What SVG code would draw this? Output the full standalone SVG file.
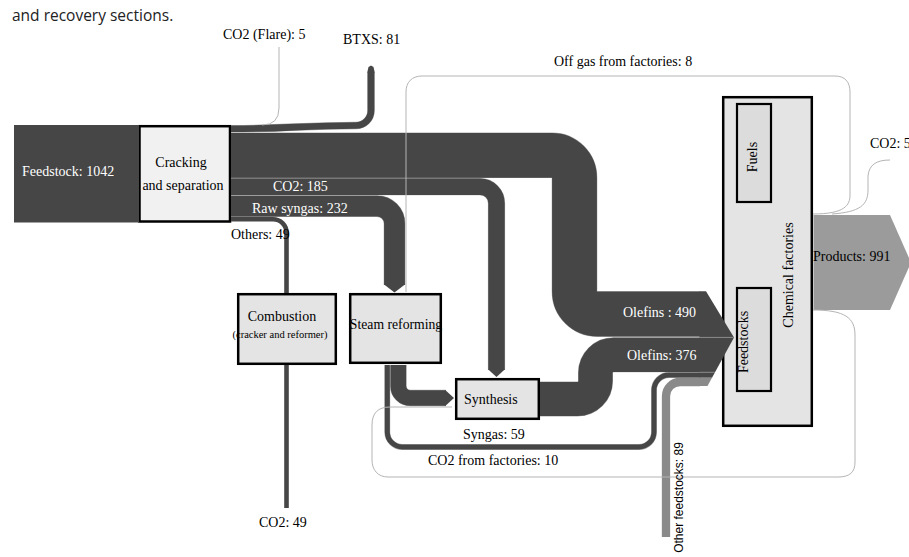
<svg xmlns="http://www.w3.org/2000/svg" width="909" height="557" viewBox="0 0 909 557">
<style>
.t{font-family:"Liberation Serif","Times New Roman",serif;font-size:14px;fill:#000}
.w{fill:#fff}
.ttl{font-family:"Open Sans",Lato,sans-serif;font-size:15.5px;fill:#222}
.ln{fill:none;stroke:#ababab}
.dk{fill:none;stroke:#464646}
.gr{fill:none;stroke:#8a8a8a}
.thin{fill:none;stroke:#b4b4b4;stroke-width:1}
.box{stroke:#000;stroke-width:2.5}
.b1{fill:#f1f1f1}
.b2{fill:#e4e4e4}
.b3{fill:#dcdcdc}
.tip{fill:#464646}
.sep{stroke:#a0a0a0;stroke-width:0.8;fill:none}
</style>
<defs>
<path id="p-btxs" d="M231,128.75 C290,128.75 300,125.5 356,125.5 A15,15 0 0 0 371,110.5 V72"/>
<path id="p-ol490" d="M231,155.3 H552 A22.5,22.5 0 0 1 574.5,177.8 V291.5 A22.5,22.5 0 0 0 597,314 H700"/>
<path id="p-co2185" d="M231,186.7 H480 A16.5,16.5 0 0 1 496.5,203.2 V370"/>
<path id="p-raw" d="M231,206.1 H377 A17.5,17.5 0 0 1 394.5,223.6 V285"/>
<path id="p-others" d="M231,219.2 H273 A13.5,13.5 0 0 1 286.5,232.7 V293"/>
<path id="p-steamsyn" d="M398.3,365 V386 A12,12 0 0 0 410.3,398 H446"/>
<path id="p-syngas59" d="M387.3,365 V432 A15,15 0 0 0 402.3,447 H639 A15,15 0 0 0 654,432 V390 A15,15 0 0 1 669,375 H700"/>
<path id="p-ol376" d="M540,399 H577.5 A18,18 0 0 0 595.5,381 V372.8 A18,18 0 0 1 613.5,354.8 H700"/>
</defs>
<rect width="909" height="557" fill="#fff"/>
<text class="ttl" x="12" y="20.5">and recovery sections.</text>

<g id="cracking">
<rect class="box b1" x="139.5" y="126.2" width="90.5" height="95.3"/>
<text class="t" x="181" y="167" text-anchor="middle">Cracking</text>
<text class="t" x="183" y="190" text-anchor="middle">and separation</text>
</g>
<g id="combustion">
<rect class="box b2" x="238.2" y="294.2" width="97.6" height="69.6"/>
<text class="t" x="282" y="320.5" text-anchor="middle">Combustion</text>
<text class="t" x="280" y="338" text-anchor="middle" style="font-size:10.5px">(cracker and reformer)</text>
</g>
<g id="steam-reforming">
<rect class="box b2" x="350.2" y="294.2" width="90.6" height="68.6"/>
<text class="t" x="396" y="329" text-anchor="middle" style="font-size:13.7px">Steam reforming</text>
</g>
<g id="synthesis">
<rect class="box b2" x="456.2" y="379.2" width="82.6" height="39.6"/>
<text class="t" x="464" y="404">Synthesis</text>
</g>
<g id="chemical-factories">
<rect class="box b2" x="723.2" y="97.2" width="88.6" height="328.6"/>
<text class="t" transform="translate(793,275) rotate(-90)" text-anchor="middle">Chemical factories</text>
<g id="fuels">
<rect class="box b3" x="737" y="104" width="34" height="98" style="stroke-width:2.2"/>
<text class="t" transform="translate(757,157) rotate(-90)" text-anchor="middle">Fuels</text>
</g>
<g id="feedstocks">
<rect class="box b3" x="737" y="288" width="34" height="103" style="stroke-width:2.2"/>
<text class="t" transform="translate(748,342) rotate(-90)" text-anchor="middle">Feedstocks</text>
</g>
</g>

<g id="connectors">
<rect x="14" y="125" width="125" height="97.5" fill="#464646"/>
<use href="#p-btxs" class="ln" style="stroke-width:7.5"/>
<use href="#p-btxs" class="dk" style="stroke-width:6.7"/>
<polygon class="tip" points="367.25,72.5 374.75,72.5 373.5,67 371,65.5 368.5,67"/>
<use href="#p-ol490" class="ln" style="stroke-width:45.6"/>
<use href="#p-ol490" class="dk" style="stroke-width:44.8"/>
<use href="#p-co2185" class="ln" style="stroke-width:17.2"/>
<use href="#p-co2185" class="dk" style="stroke-width:16.4"/>
<polygon class="tip" points="488.3,369.5 504.7,369.5 496.5,377"/>
<use href="#p-raw" class="ln" style="stroke-width:21.6"/>
<use href="#p-raw" class="dk" style="stroke-width:20.8"/>
<polygon class="tip" points="384.1,284.5 404.9,284.5 394.5,292.5"/>
<use href="#p-others" class="dk" style="stroke-width:4.6"/>
<path class="dk" d="M286.5,365 V508" style="stroke-width:4.6"/>
<use href="#p-steamsyn" class="ln" style="stroke-width:16.5"/>
<use href="#p-steamsyn" class="dk" style="stroke-width:15.7"/>
<polygon class="tip" points="445.5,390.15 454,398 445.5,405.85"/>
<use href="#p-syngas59" class="ln" style="stroke-width:5.8"/>
<use href="#p-syngas59" class="dk" style="stroke-width:5"/>
<use href="#p-ol376" class="ln" style="stroke-width:35"/>
<use href="#p-ol376" class="dk" style="stroke-width:34.2"/>
<path class="gr" d="M666,537 V396 A14,14 0 0 1 680,382 H700" style="stroke-width:8.3"/>
<polygon class="tip" points="699.5,291.2 706,291.2 734,337.5 712,377.8 699.5,377.8"/>
<polygon fill="#8a8a8a" points="699.5,377.8 712,377.8 707.5,386.1 699.5,386.1"/>
<path class="sep" d="M699.5,337.4 H733.5 M699.5,372.3 H714.8"/>
<polygon fill="#9b9b9b" points="813.5,215 890,215 911,262.5 890,310 813.5,310"/>
<path class="thin" d="M262,125 Q279,125 279,108 V47"/>
<path class="thin" d="M813,214 C845,214 850,205 850,195 V92 C850,82 845,76 835,76 H422 C412,76 406,82 406,92 V292"/>
<path class="thin" d="M832,214 C860,212 868,205 868,190 V176 C869,165 876,160 890,160"/>
<path class="thin" d="M813,310 C845,310 855,318 855,335 V462 C855,472 850,477 838,477 H388 C378,477 372,470 372,460 V425 C372,413 378,407 390,407 H452"/>
</g>

<g id="flow-labels">
<text class="t w" x="22" y="176">Feedstock: 1042</text>
<text class="t" x="223" y="39">CO2 (Flare): 5</text>
<text class="t" x="343" y="44">BTXS: 81</text>
<text class="t" x="554" y="66">Off gas from factories: 8</text>
<text class="t" x="870" y="148">CO2: 5</text>
<text class="t w" x="273" y="190.5">CO2: 185</text>
<text class="t w" x="252" y="213">Raw syngas: 232</text>
<text class="t" x="231" y="239">Others: 49</text>
<text class="t w" x="623" y="317">Olefins : 490</text>
<text class="t w" x="627" y="360">Olefins: 376</text>
<text class="t" x="813" y="261">Products: 991</text>
<text class="t" x="463" y="439">Syngas: 59</text>
<text class="t" x="428" y="465">CO2 from factories: 10</text>
<text class="t" x="259" y="527">CO2: 49</text>
<text transform="translate(683,497.5) rotate(-90)" text-anchor="middle" style="font-family:'Liberation Sans',Arial,sans-serif;font-size:12px;fill:#000">Other feedstocks: 89</text>
</g>
</svg>
